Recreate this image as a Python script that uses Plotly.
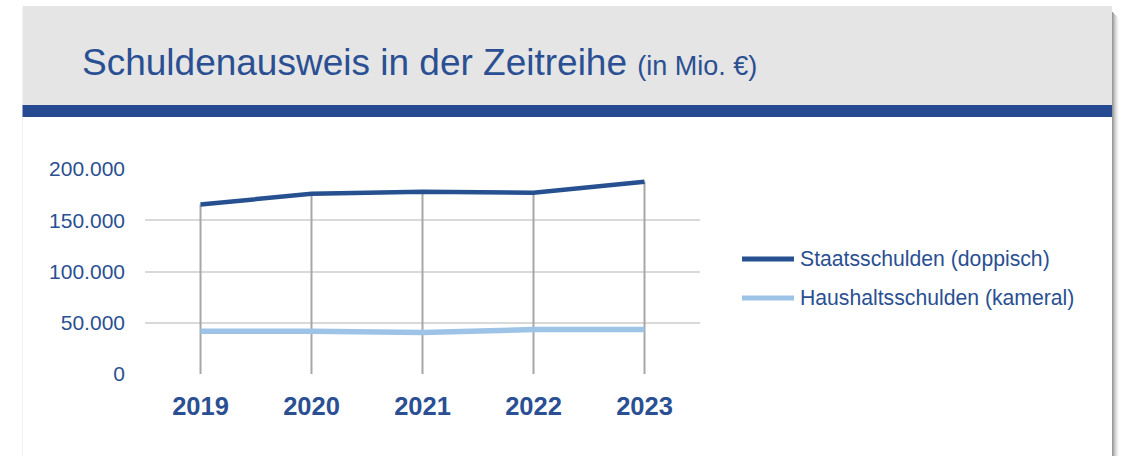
import plotly.graph_objects as go

years = ["2019", "2020", "2021", "2022", "2023"]
staatsschulden = [165400, 175800, 177800, 176800, 187600]
haushaltsschulden = [41800, 41800, 40400, 43300, 43300]
y_ticks = [0, 50000, 100000, 150000, 200000]
y_tick_labels = ["0", "50.000", "100.000", "150.000", "200.000"]
series_names = ["Staatsschulden (doppisch)", "Haushaltsschulden (kameral)"]

title_main = "Schuldenausweis in der Zeitreihe"
title_unit = "(in Mio. €)"

DARK = "#26508f"
LIGHT = "#9dc3e6"
TEXT = "#2a4f92"
FONT = "Liberation Sans, Arial, sans-serif"

W, H = 1122, 456
L, R, T, B = 145, 422, 169, 82
pw = W - L - R
ph = H - T - B


def fx(x):
    return (x - L) / pw


def fy(y):
    return (H - B - y) / ph


fig = go.Figure()

# drop lines from the top series down to zero
dx, dy = [], []
for yr, a, b in zip(years, staatsschulden, haushaltsschulden):
    dx += [yr, yr, None]
    dy += [0, max(a, b), None]
fig.add_trace(go.Scatter(x=dx, y=dy, mode="lines", line=dict(color="#a6a6a6", width=2),
                         showlegend=False, hoverinfo="skip"))

colors = [DARK, LIGHT]
widths = [4.5, 5.5]
for name, vals, c, w in zip(series_names, [staatsschulden, haushaltsschulden], colors, widths):
    fig.add_trace(go.Scatter(x=years, y=vals, mode="lines", name=name,
                             line=dict(color=c, width=w), showlegend=False))

shapes = []
# shadow on the right
for i, op in enumerate([0.75, 0.6, 0.45, 0.32, 0.2, 0.1, 0.05]):
    shapes.append(dict(type="rect", xref="paper", yref="paper", layer="below",
                       x0=fx(1112 + i), x1=fx(1113 + i), y0=fy(456), y1=fy(12 + i),
                       fillcolor=f"rgba(120,120,120,{op})", line_width=0))
# gray header panel
shapes.append(dict(type="rect", xref="paper", yref="paper", layer="below",
                   x0=fx(22.5), x1=fx(1112), y0=fy(105), y1=fy(6),
                   fillcolor="#e5e5e5", line_width=0))
# blue band
shapes.append(dict(type="rect", xref="paper", yref="paper", layer="below",
                   x0=fx(22.5), x1=fx(1112), y0=fy(117), y1=fy(105),
                   fillcolor="#254a92", line_width=0))
# faint left border of content
shapes.append(dict(type="line", xref="paper", yref="paper", layer="below",
                   x0=fx(22.5), x1=fx(22.5), y0=fy(456), y1=fy(117),
                   line=dict(color="#f0f0f0", width=1)))

annotations = [
    dict(xref="paper", yref="paper", x=fx(80), y=fy(62), xanchor="left", yanchor="middle",
         showarrow=False,
         text=f"<span style='font-size:37px'>{title_main}</span> <span style='font-size:27px'>{title_unit}</span>",
         font=dict(family=FONT, color=TEXT, size=37)),
]

# legend drawn as line samples + labels
legend_y = [259, 298]
for name, c, ly in zip(series_names, colors, legend_y):
    shapes.append(dict(type="line", xref="paper", yref="paper",
                       x0=fx(742), x1=fx(794), y0=fy(ly), y1=fy(ly),
                       line=dict(color=c, width=5)))
    annotations.append(dict(xref="paper", yref="paper", x=fx(798), y=fy(ly),
                            xanchor="left", yanchor="middle", showarrow=False,
                            text=name, font=dict(family=FONT, size=21.2, color=TEXT)))

fig.update_layout(
    width=W, height=H,
    margin=dict(l=L, r=R, t=T, b=B, autoexpand=False),
    paper_bgcolor="white", plot_bgcolor="white",
    separators=",.",
    shapes=shapes, annotations=annotations,
    showlegend=False,
    xaxis=dict(type="category", range=[-0.5, 4.5], showgrid=False, zeroline=False,
               showline=False, ticks="", ticklabelstandoff=14,
               tickfont=dict(family=FONT, size=25.5, color=TEXT, weight="bold")),
    yaxis=dict(range=[0, 200000], tickvals=y_ticks, ticktext=y_tick_labels,
               showgrid=True, gridcolor="#d9d9d9", gridwidth=2, zeroline=False,
               showline=False, ticks="", ticklabelstandoff=19,
               tickfont=dict(family=FONT, size=21, color=TEXT)),
    font=dict(family=FONT, color=TEXT),
)

fig.write_html("out.html", config={"displayModeBar": False},
               post_script="document.body.style.margin='0';document.body.style.overflow='hidden';")
